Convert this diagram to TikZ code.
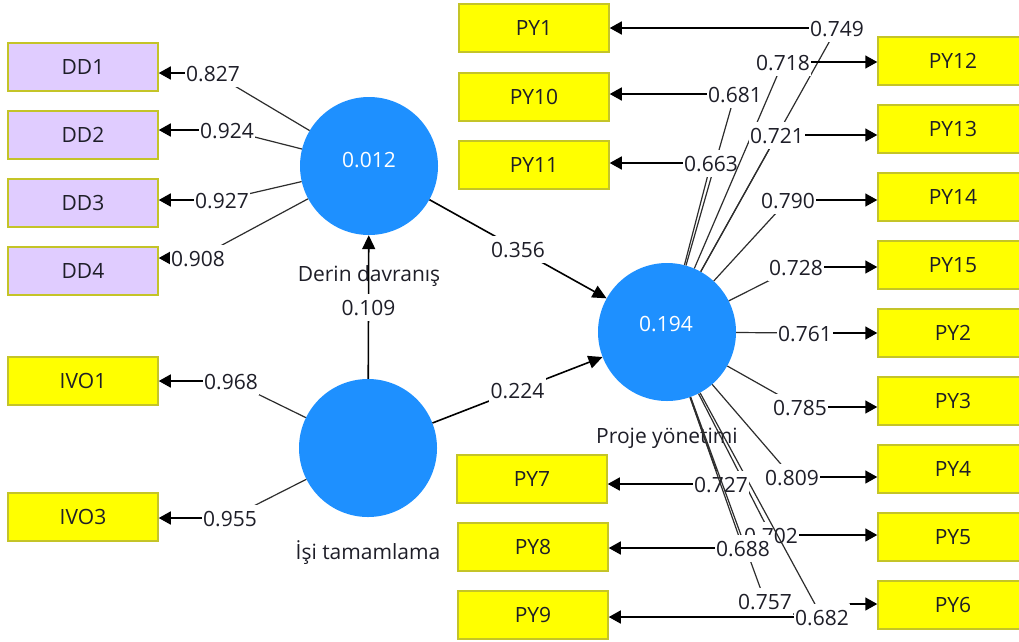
\documentclass[tikz,border=0pt]{standalone}
\usepackage{fontspec}
\setmainfont{Open Sans}
\usetikzlibrary{arrows.meta}

\definecolor{lav}{RGB}{224,204,255}
\definecolor{yel}{RGB}{255,255,0}
\definecolor{rim}{RGB}{196,196,40}
\definecolor{blu}{RGB}{30,144,255}
\definecolor{ink}{RGB}{30,30,40}
\definecolor{wirec}{RGB}{45,45,45}

\tikzset{
  ibox/.style={draw=rim, line width=1.5pt, fill=yel, minimum width=150pt,
    minimum height=48pt, inner sep=0pt, text=ink},
  dbox/.style={ibox, fill=lav},
  latent/.style={circle, fill=blu, minimum size=138pt, inner sep=0pt},
  rsq/.style={text=white},
  cname/.style={anchor=base, text=ink},
  wt/.style={fill=white, text=ink, inner xsep=1.5pt, inner ysep=1pt,
    text height=21pt, text depth=4pt},
  wire/.style={draw=wirec, line width=1.2pt},
  load/.style={draw=black, line width=1.6pt, -{Triangle[length=12pt,width=13pt]}},
  beta/.style={draw=black, line width=1.6pt, -{Triangle[length=14pt,width=13pt]}},
}

\begin{document}
\begin{tikzpicture}[x=1pt, y=-1pt, every node/.style={font=\fontsize{21}{25}\selectfont}]
\useasboundingbox (0,0) rectangle (1019,641);
\fill[white] (0,0) rectangle (1019,641);
\clip (0,0) rectangle (1019,641);

% indicator boxes
\node[dbox] (DD1) at (83,67) {DD1};
\node[dbox] (DD2) at (83,135) {DD2};
\node[dbox] (DD3) at (83,203) {DD3};
\node[dbox] (DD4) at (83,271) {DD4};
\node[ibox] (IVO1) at (83,381) {IVO1};
\node[ibox] (IVO3) at (83,517) {IVO3};

\node[ibox] (PY1) at (534,28) {PY1};
\node[ibox] (PY10) at (534,97) {PY10};
\node[ibox] (PY11) at (534,165) {PY11};
\node[ibox] (PY7) at (532,479) {PY7};
\node[ibox] (PY8) at (533,547) {PY8};
\node[ibox] (PY9) at (533,615) {PY9};

\node[ibox] (PY12) at (953,61) {PY12};
\node[ibox] (PY13) at (953,129) {PY13};
\node[ibox] (PY14) at (953,197) {PY14};
\node[ibox] (PY15) at (953,265) {PY15};
\node[ibox] (PY2) at (953,333) {PY2};
\node[ibox] (PY3) at (953,401) {PY3};
\node[ibox] (PY4) at (953,469) {PY4};
\node[ibox] (PY5) at (953,537) {PY5};
\node[ibox] (PY6) at (953,605) {PY6};

% latent variables
\node[latent] (DDc) at (369,166) {};
\node[latent] (ISc) at (368,448) {};
\node[latent] (PYc) at (667,332) {};
\node[rsq] (DDv) at (369,160) {0.012};
\node[rsq] (PYv) at (666,324) {0.194};
\node[cname] (DDn) at (369,281) {Derin davranış};
\node[cname] (ISn) at (368,559) {İşi tamamlama};
\node[cname] (PYn) at (667,443) {Proje yönetimi};

% structural paths
\draw[beta] (ISc) -- node[wt] (w109) {0.109} (DDc);
\draw[beta] (DDc) -- node[wt] (w356) {0.356} (PYc);
\draw[beta] (ISc) -- node[wt] (w224) {0.224} (PYc);

% outer loadings: Derin davranış
\coordinate (bD1) at (213,73);
\draw[wire] (DDc) -- (bD1);
\draw[load] (bD1) -- (bD1 -| DD1.east);
\node[wt] (wD1) at (bD1) {0.827};

\coordinate (bD2) at (227,130);
\draw[wire] (DDc) -- (bD2);
\draw[load] (bD2) -- (bD2 -| DD2.east);
\node[wt] (wD2) at (bD2) {0.924};

\coordinate (bD3) at (222,200);
\draw[wire] (DDc) -- (bD3);
\draw[load] (bD3) -- (bD3 -| DD3.east);
\node[wt] (wD3) at (bD3) {0.927};

\coordinate (bD4) at (198,258);
\draw[wire] (DDc) -- (bD4);
\draw[load] (bD4) -- (bD4 -| DD4.east);
\node[wt] (wD4) at (bD4) {0.908};

% outer loadings: İşi tamamlama
\coordinate (bI1) at (231,381);
\draw[wire] (ISc) -- (bI1);
\draw[load] (bI1) -- (bI1 -| IVO1.east);
\node[wt] (wI1) at (bI1) {0.968};

\coordinate (bI3) at (230,518);
\draw[wire] (ISc) -- (bI3);
\draw[load] (bI3) -- (bI3 -| IVO3.east);
\node[wt] (wI3) at (bI3) {0.955};

% outer loadings: Proje yönetimi
\coordinate (bP1) at (837,28);
\draw[wire] (PYc) -- (bP1);
\draw[load] (bP1) -- (bP1 -| PY1.east);
\node[wt] (wP1) at (bP1) {0.749};

\coordinate (bP10) at (735,94);
\draw[wire] (PYc) -- (bP10);
\draw[load] (bP10) -- (bP10 -| PY10.east);
\node[wt] (wP10) at (bP10) {0.681};

\coordinate (bP11) at (711,163);
\draw[wire] (PYc) -- (bP11);
\draw[load] (bP11) -- (bP11 -| PY11.east);
\node[wt] (wP11) at (bP11) {0.663};

\coordinate (bP12) at (783,62);
\draw[wire] (PYc) -- (bP12);
\draw[load] (bP12) -- (bP12 -| PY12.west);
\node[wt] (wP12) at (bP12) {0.718};

\coordinate (bP13) at (777,135);
\draw[wire] (PYc) -- (bP13);
\draw[load] (bP13) -- (bP13 -| PY13.west);
\node[wt] (wP13) at (bP13) {0.721};

\coordinate (bP14) at (788,200);
\draw[wire] (PYc) -- (bP14);
\draw[load] (bP14) -- (bP14 -| PY14.west);
\node[wt] (wP14) at (bP14) {0.790};

\coordinate (bP15) at (796,267);
\draw[wire] (PYc) -- (bP15);
\draw[load] (bP15) -- (bP15 -| PY15.west);
\node[wt] (wP15) at (bP15) {0.728};

\coordinate (bP2) at (805,333);
\draw[wire] (PYc) -- (bP2);
\draw[load] (bP2) -- (bP2 -| PY2.west);
\node[wt] (wP2) at (bP2) {0.761};

\coordinate (bP3) at (800,407);
\draw[wire] (PYc) -- (bP3);
\draw[load] (bP3) -- (bP3 -| PY3.west);
\node[wt] (wP3) at (bP3) {0.785};

\coordinate (bP4) at (792,477);
\draw[wire] (PYc) -- (bP4);
\draw[load] (bP4) -- (bP4 -| PY4.west);
\node[wt] (wP4) at (bP4) {0.809};

\coordinate (bP5) at (771,535);
\draw[wire] (PYc) -- (bP5);
\draw[load] (bP5) -- (bP5 -| PY5.west);
\node[wt] (wP5) at (bP5) {0.702};

\coordinate (bP6) at (822,617);
\coordinate (kP6) at (850,604);
\draw[wire] (PYc) -- (bP6) -- (kP6);

\coordinate (bP7) at (721,484);
\draw[wire] (PYc) -- (bP7);
\draw[load] (bP7) -- (bP7 -| PY7.east);
\node[wt] (wP7) at (bP7) {0.727};

\coordinate (bP9) at (765,601);
\coordinate (kP9) at (800,617);
\draw[wire] (PYc) -- (bP9) -- (kP9);
\draw[load] (kP9) -- (kP9 -| PY9.east);

\draw[load] (kP6) -- (kP6 -| PY6.west);
\node[wt] (wP6) at (bP6) {0.682};

\coordinate (bP8) at (743,548);
\draw[wire] (PYc) -- (bP8);
\draw[load] (bP8) -- (bP8 -| PY8.east);
\node[wt] (wP8) at (bP8) {0.688};

\node[wt] (wP9) at (bP9) {0.757};
\end{tikzpicture}
\end{document}
